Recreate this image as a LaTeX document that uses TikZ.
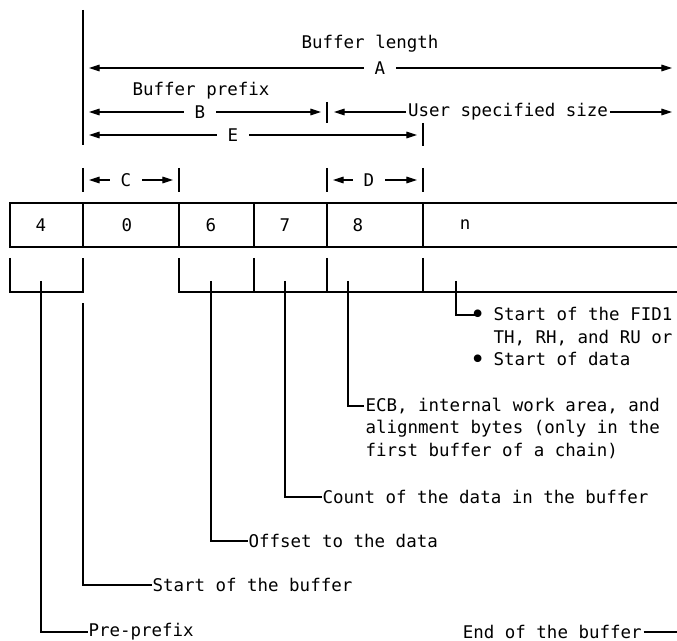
\documentclass[tikz,border=0pt]{standalone}
\usepackage{fontspec}
\setmonofont{DejaVu Sans Mono}
\usepackage{tikz}
\usetikzlibrary{arrows.meta, positioning}
\newcommand{\fidbullet}{\makebox[0.602em]{\raisebox{-0.17em}{\scalebox{1.5}{\textbullet}}}}

\begin{document}
\begin{tikzpicture}[x=0.75pt, y=-0.75pt, line width=0.8pt,
      lbl/.style={font=\ttfamily\fontsize{13.1}{16.9}\selectfont, inner sep=0pt},
      dimlbl/.style={lbl, inner xsep=8pt},
      dim/.style={-{Triangle[length=8pt,width=5pt]}},
      field/.style={lbl, anchor=center}]
  \useasboundingbox (0,0) rectangle (677,641);
  % Extension line at the start of the buffer
  \draw (83,10) -- (83,145);
  % Buffer length
  \node[lbl] (buflen) at (370,44) {Buffer length};
  \node[dimlbl] (lblA) at (380,68) {A};
  \draw[dim] (lblA) -- (89,68);
  \draw[dim] (lblA) -- (672,68);
  % Buffer prefix and user size
  \node[lbl] (bufpre) at (201,91) {Buffer prefix};
  \node[dimlbl] (lblB) at (200,112) {B};
  \draw[dim] (lblB) -- (89,112);
  \draw[dim] (lblB) -- (321,112);
  \draw (327,102) -- (327,123);
  \node[lbl, inner xsep=1pt] (usersize) at (508,112) {User specified size};
  \draw[dim] (usersize) -- (334,112);
  \draw[dim] (usersize) -- (672,112);
  \node[dimlbl] (lblE) at (233,135) {E};
  \draw[dim] (lblE) -- (89,135);
  \draw[dim] (lblE) -- (417,135);
  \draw (423,123) -- (423,146);
  % C and D
  \draw (83,168) -- (83,192);
  \draw (179,168) -- (179,192);
  \node[dimlbl] (lblC) at (126,180) {C};
  \draw[dim] (lblC) -- (89,180);
  \draw[dim] (lblC) -- (173,180);
  \draw (327,168) -- (327,192);
  \draw (423,168) -- (423,192);
  \node[dimlbl] (lblD) at (369,180) {D};
  \draw[dim] (lblD) -- (333,180);
  \draw[dim] (lblD) -- (417,180);
  % Buffer fields
  \draw (677,203) -- (10,203) -- (10,247) -- (677,247);
  \foreach \x in {83,179,254,327,423}
    \draw (\x,203) -- (\x,247);
  \foreach \x/\v in {41/4, 127/0, 211/6, 285/7, 358/8, 465/n}
    \node[field] (f\v) at (\x,225) {\v};
  % Brackets under the fields
  \draw (10,258) -- (10,292) -- (83,292) -- (83,258);
  \draw (677,292) -- (179,292) -- (179,258);
  \foreach \x in {254,327,423}
    \draw (\x,258) -- (\x,292);
  % Descriptions
  \node[lbl, anchor=west] (preprefix) at (88,632) {Pre-prefix};
  \node[lbl, anchor=west] (bufstart) at (152,585) {Start of the buffer};
  \node[lbl, anchor=west] (offset) at (248,541) {Offset to the data};
  \node[lbl, anchor=west] (count) at (322,497) {Count of the data in the buffer};
  \node[lbl, anchor=west, align=left] (ecb) at (365,428)
    {ECB, internal work area, and\\alignment bytes (only in the\\first buffer of a chain)};
  \node[lbl, anchor=west, align=left] (fid) at (472,338)
    {\fidbullet\ Start of the FID1\\\hphantom{\fidbullet\ }TH, RH, and RU or\\\fidbullet\ Start of data};
  \node[lbl, anchor=west, inner xsep=1pt] (endbuf) at (461,632) {End of the buffer};
  % Leader lines
  \coordinate (lp4) at (41,281);
  \coordinate (lp0) at (83,303);
  \coordinate (lp6) at (211,281);
  \coordinate (lp7) at (285,281);
  \coordinate (lp8) at (348,281);
  \coordinate (lpn) at (456,281);
  \coordinate (ecbtip) at (364,406);
  \coordinate (fidtip) at (475,315);
  \coordinate (bufend) at (677,632);
  \draw (lp4) |- (preprefix.west);
  \draw (lp0) |- (bufstart.west);
  \draw (lp6) |- (offset.west);
  \draw (lp7) |- (count.west);
  \draw (lp8) |- (ecbtip);
  \draw (lpn) |- (fidtip);
  \draw (endbuf.east) -- (bufend);
\end{tikzpicture}
\end{document}
